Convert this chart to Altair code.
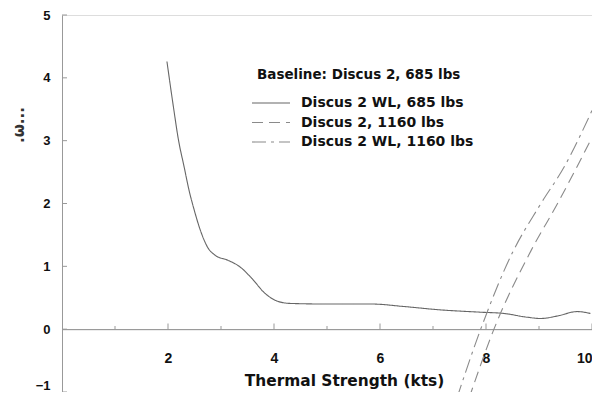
import altair as alt
import pandas as pd

FONT = "Liberation Sans"
WIDE = "DejaVu Sans"

# Series: Discus 2 WL, 685 lbs (solid)
solid_x = [1.98, 2.1, 2.2, 2.3, 2.4, 2.5, 2.6, 2.75, 2.9, 3.12, 3.36, 3.58, 3.83, 4.05, 4.3, 5.0, 5.84, 6.46, 7.09, 7.9, 8.34, 8.78, 9.03, 9.35, 9.72, 9.97]
solid_y = [4.26, 3.55, 3.0, 2.6, 2.2, 1.88, 1.6, 1.3, 1.17, 1.1, 0.99, 0.81, 0.57, 0.45, 0.41, 0.40, 0.40, 0.36, 0.31, 0.27, 0.25, 0.19, 0.17, 0.21, 0.28, 0.25]

# Series: Discus 2, 1160 lbs (dashed)
d1160_x = [7.68, 8.15, 8.85, 9.35, 10.0]
d1160_y = [-1.1, 0.0, 1.25, 2.0, 3.05]

# Series: Discus 2 WL, 1160 lbs (dash-dot)
wl1160_x = [7.45, 7.9, 8.5, 9.0, 9.5, 10.0]
wl1160_y = [-1.1, 0.0, 1.22, 1.95, 2.62, 3.48]

series_names = ["Discus 2 WL,  685 lbs", "Discus 2, 1160 lbs", "Discus 2 WL, 1160 lbs"]
legend_title = "Baseline: Discus 2, 685 lbs"
x_label_values = [2, 4, 6, 8, 10]
y_label_values = [-1, 0, 1, 2, 3, 4, 5]
x_tick_values = [1, 2, 3, 4, 5, 6, 7, 8, 9, 10]
dash_range = [[1, 0], [11, 6], [14, 5, 3, 5]]
line_colors = ["#666666", "#8a8a8a", "#8a8a8a"]

rows = []
for name, xs, ys in zip(series_names, [solid_x, d1160_x, wl1160_x], [solid_y, d1160_y, wl1160_y]):
    for i, (x, y) in enumerate(zip(xs, ys)):
        rows.append({"series": name, "x": x, "y": y, "i": i})
df = pd.DataFrame(rows)

xscale = alt.Scale(domain=[0, 10], nice=False)
yscale = alt.Scale(domain=[-1, 5], nice=False)
dash_scale = alt.Scale(domain=series_names, range=dash_range)
color_scale = alt.Scale(domain=series_names, range=line_colors)

lines = alt.Chart(df).mark_line(interpolate="monotone", strokeWidth=1.1, clip=False).encode(
    x=alt.X("x:Q", scale=xscale, axis=alt.Axis(
        values=x_label_values, offset=-62.83, ticks=False, labelPadding=22, grid=False,
        labelFont=FONT, labelFontSize=14, labelFontWeight="bold", labelColor="#111",
        labelAlign={"condition": {"test": "datum.value == 10", "value": "right"}, "value": "center"},
        domainColor="#888",
        title="Thermal Strength (kts)", titleFont=WIDE, titleFontSize=15.4, titleFontWeight="bold",
        titleColor="#111", titleX=282, titleY=51, titleBaseline="middle")),
    y=alt.Y("y:Q", scale=yscale, axis=alt.Axis(
        values=y_label_values, format="d", ticks=False, labelPadding=12, grid=False,
        labelFont=FONT, labelFontSize=13, labelFontWeight="bold", labelColor="#111",
        labelBaseline={"condition": {"test": "datum.value == -1", "value": "bottom"}, "value": "middle"},
        domainColor="#999", title=None)),
    strokeDash=alt.StrokeDash("series:N", scale=dash_scale, legend=None),
    color=alt.Color("series:N", scale=color_scale, legend=None),
    order="i:Q",
)

ytick_df = pd.DataFrame({"v": y_label_values})
yticks = alt.Chart(ytick_df).mark_rule(color="#999", strokeWidth=1).encode(
    y=alt.Y("v:Q", scale=yscale), x=alt.value(0), x2=alt.value(5))

xtick_df = pd.DataFrame({"t": x_tick_values,
                         "base": [0.0] * len(x_tick_values),
                         "len": [0.05 if t % 2 else 0.09 for t in x_tick_values]})
xticks = alt.Chart(xtick_df).mark_rule(color="#999", strokeWidth=1).encode(
    x=alt.X("t:Q", scale=xscale), y=alt.Y("base:Q", scale=yscale), y2="len:Q")

ytitle = alt.Chart(pd.DataFrame({"s": [".ω..."]})).mark_text(
    angle=270, font=WIDE, fontSize=15, fontWeight="bold", color="#333").encode(
    text="s:N", x=alt.value(-43), y=alt.value(110))

# manual legend (placed in pixels inside the plot)
legend_layers = [
    alt.Chart(pd.DataFrame({"s": [legend_title]})).mark_text(
        align="left", baseline="middle", font=WIDE, fontSize=13.5, fontWeight="bold", color="#111"
    ).encode(text="s:N", x=alt.value(195), y=alt.value(60))
]
row_y = [88, 107.5, 127]
for name, ry in zip(series_names, row_y):
    ld = pd.DataFrame({"series": [name]})
    legend_layers.append(alt.Chart(ld).mark_rule(strokeWidth=1.1).encode(
        x=alt.value(190), x2=alt.value(228), y=alt.value(ry),
        strokeDash=alt.StrokeDash("series:N", scale=dash_scale, legend=None),
        color=alt.Color("series:N", scale=color_scale, legend=None)))
    legend_layers.append(alt.Chart(ld).mark_text(
        align="left", baseline="middle", font=WIDE, fontSize=14, fontWeight="bold", color="#111"
    ).encode(text="series:N", x=alt.value(239), y=alt.value(ry)))

chart = alt.layer(yticks, xticks, lines, ytitle, *legend_layers).properties(
    width=530, height=377,
    padding={"left": 54, "top": 7, "right": 0, "bottom": 0},
    autosize=alt.AutoSizeParams(type="none"),
).configure_view(stroke=None).configure(background="white")

chart.save("out.html", embed_options={"renderer": "svg", "actions": False})
